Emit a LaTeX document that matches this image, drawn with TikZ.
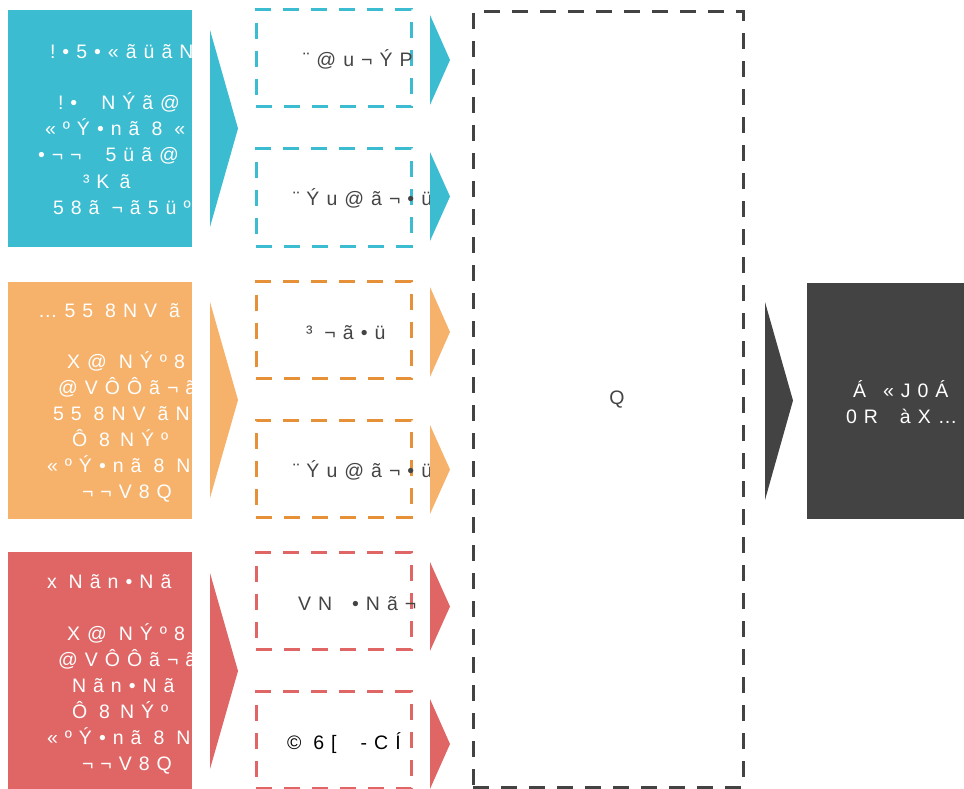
\documentclass[tikz,border=0pt]{standalone}
\usepackage{fontspec}
\setmainfont{Liberation Sans}
\newfontfamily\lsA[LetterSpace=36]{Liberation Sans}
\newcommand\gp{\hspace{12pt}}
\definecolor{cblue}{HTML}{3BBCD0}
\definecolor{corange}{HTML}{F6B26B}
\definecolor{corangeD}{HTML}{E69138}
\definecolor{cred}{HTML}{E06666}
\definecolor{cdark}{HTML}{434343}
\definecolor{ctxt}{HTML}{444444}
\begin{document}
\begin{tikzpicture}[x=1pt,y=-1pt,
  every node/.style={inner sep=0pt,outer sep=0pt},
  solidbox/.style={fill=#1,draw=none,rectangle},
  dashbox/.style={draw=#1,line width=3pt,dash pattern=on 16pt off 12pt,rectangle,minimum width=155pt,minimum height=97pt},
  wt/.style={text=white,anchor=base west,font={\lsA\fontsize{19.5}{26}\selectfont}},
  mt/.style={text=ctxt,anchor=base west,font={\lsA\fontsize{19.5}{26}\selectfont}}]
\useasboundingbox (0,0) rectangle (964,789);

% left solid boxes
\node[solidbox=cblue,minimum width=184pt,minimum height=237pt] (lb) at (100,128.5) {};
\node[solidbox=corange,minimum width=184pt,minimum height=237pt] (lo) at (100,400.5) {};
\node[solidbox=cred,minimum width=184pt,minimum height=237pt] (lr) at (100,670.5) {};

\begin{scope}
\clip (8,0) rectangle (192,789);
\node[wt] (bl1) at (50,59) {!•5•«ãüãN};
\node[wt] (bl2) at (58,110) {!•\gp\gp{}NÝã@};
\node[wt] (bl3) at (45,136) {«ºÝ•nã\gp{}8\gp{}«};
\node[wt] (bl4) at (38,162) {•¬¬\gp\gp{}5üã@};
\node[wt] (bl5) at (83,188) {³K\hspace{10pt}ã};
\node[wt] (bl6) at (53,214) {58ã\gp{}¬ã5üº};

\node[wt] (ol1) at (38,317) {…55\gp{}8NV\gp{}ã};
\node[wt] (ol2) at (67,368.5) {X@\gp{}NÝº8};
\node[wt] (ol3) at (58,394.5) {@VÔÔã¬ã};
\node[wt] (ol4) at (53,420.5) {55\gp{}8NV\gp{}ãN};
\node[wt] (ol5) at (72,446.5) {Ô\gp{}8\hspace{10pt}NÝº};
\node[wt] (ol6) at (47,472.5) {«ºÝ•nã\gp{}8\gp{}N};
\node[wt] (ol7) at (82,498.5) {¬¬V8Q};

\node[wt] (rl1) at (47,588) {x\gp{}Nãn•Nã};
\node[wt] (rl2) at (67,640) {X@\gp{}NÝº8};
\node[wt] (rl3) at (58,666) {@VÔÔã¬ã};
\node[wt] (rl4) at (72,692) {Nãn•Nã};
\node[wt] (rl5) at (72,718) {Ô\gp{}8\hspace{10pt}NÝº};
\node[wt] (rl6) at (47,744) {«ºÝ•nã\gp{}8\gp{}N};
\node[wt] (rl7) at (82,770) {¬¬V8Q};
\end{scope}

% big triangles
\fill[cblue] (210,30) -- (238,128.5) -- (210,227) -- cycle;
\fill[corange] (210,302) -- (238,400) -- (210,498) -- cycle;
\fill[cred] (210,573) -- (238,671) -- (210,769) -- cycle;

% dashed middle boxes
\node[dashbox=cblue] (m1) at (333.5,58.5) {};
\node[dashbox=cblue] (m2) at (333.5,197.5) {};
\node[dashbox=corangeD] (m3) at (333.5,330) {};
\node[dashbox=corangeD] (m4) at (333.5,468.5) {};
\node[dashbox=cred] (m5) at (333.5,601) {};
\node[dashbox=cred] (m6) at (333.5,740) {};

\node[mt] (t1) at (303,67) {¨@u¬ÝP};
\node[mt] (t2) at (293,205) {¨Ýu@ã¬•ü};
\node[mt] (t3) at (306,339) {³\gp{}¬ã•ü};
\node[mt] (t4) at (293,477) {¨Ýu@ã¬•ü};
\node[mt] (t5) at (298,610) {VN\hspace{20pt}•Nã¬};
\node[mt,text=black] (t6) at (287,749) {©\gp{}6[\gp\gp{}-CÍ};

% small triangles
\fill[cblue] (430,15) -- (450,60) -- (430,105) -- cycle;
\fill[cblue] (430,152) -- (450,196.5) -- (430,241) -- cycle;
\fill[corange] (430,287) -- (450,332) -- (430,377) -- cycle;
\fill[corange] (430,425) -- (450,469.5) -- (430,514) -- cycle;
\fill[cred] (430,562) -- (450,606.5) -- (430,651) -- cycle;
\fill[cred] (430,699) -- (450,744) -- (430,789) -- cycle;

% big dashed box
\node[draw=cdark,line width=3pt,dash pattern=on 16pt off 12pt,rectangle,minimum width=270pt,minimum height=775pt] (big) at (608,399.5) {};
\node[text=ctxt,font={\lsA\fontsize{19.5}{26}\selectfont}] (q) at (617,400) {Q};

% right triangle and dark box
\fill[cdark] (765,302) -- (793,400.5) -- (765,500) -- cycle;
\node[solidbox=cdark,minimum width=157pt,minimum height=236pt] (out) at (885.5,401) {};
\node[wt] (o1) at (853,397) {Á\hspace{17pt}«J0Á};
\node[wt] (o2) at (846,423) {0R\hspace{22pt}àX…};
\end{tikzpicture}
\end{document}
